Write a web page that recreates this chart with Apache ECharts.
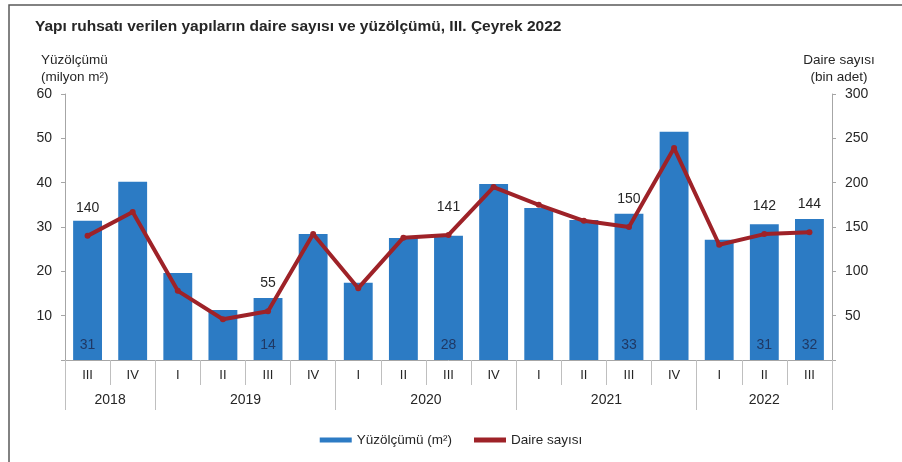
<!DOCTYPE html>
<html>
<head>
<meta charset="utf-8">
<script src="https://cdn.jsdelivr.net/npm/echarts@6/dist/echarts.min.js"></script>
<style>
  html, body { margin: 0; padding: 0; background: #fff; }
  #chart { width: 902px; height: 462px; }
</style>
</head>
<body>
<div id="chart"></div>
<script>
// ceyrekler ve yillar
var quarters = ["III", "IV", "I", "II", "III", "IV", "I", "II", "III", "IV", "I", "II", "III", "IV", "I", "II", "III"];
var quarterYears = ["2018", "2018", "2019", "2019", "2019", "2019", "2020", "2020", "2020", "2020",
  "2021", "2021", "2021", "2021", "2022", "2022", "2022"];
// yuzolcumu (milyon m2)
var areaValues = [31.4, 40.2, 19.6, 11.3, 14.0, 28.4, 17.4, 27.5, 28.0, 39.7, 34.3, 31.6, 33.0, 51.5, 27.1, 30.6, 31.8];
// daire sayisi (bin adet)
var flatValues = [140, 167, 78, 46, 55, 142, 81, 138, 141, 195, 175, 157, 150, 239, 130, 142, 144];
// etiket gosterilen noktalar
var labelIdx = [0, 4, 8, 12, 15, 16];
var leftTicks = [0, 10, 20, 30, 40, 50, 60];
var rightTicks = [0, 50, 100, 150, 200, 250, 300];

var font = "Liberation Sans";
var txt = "#262626";
var axisGrey = "#A6A6A6";

// yil ekseni: her ceyrek iki yarim adim, 0..2n noktali
var n = quarters.length;
var yearSlots = [];
for (var k = 0; k <= 2 * n; k++) yearSlots.push("");
var yearBounds = [0];
var start = 0;
for (var i = 1; i <= n; i++) {
  if (i === n || quarterYears[i] !== quarterYears[start]) {
    yearSlots[start + i] = quarterYears[start]; // grup ortasi
    yearBounds.push(2 * i);
    start = i;
  }
}

var barData = areaValues.map(function (v, i) {
  return { value: v, label: { show: labelIdx.indexOf(i) >= 0 } };
});
var lineData = flatValues.map(function (v, i) {
  return { value: v, label: { show: labelIdx.indexOf(i) >= 0 } };
});

var myChart = echarts.init(document.getElementById("chart"));
var option = {
  backgroundColor: "#fff",
  animation: false,
  textStyle: { fontFamily: font },
  title: [
    {
      text: "Yapı ruhsatı verilen yapıların daire sayısı ve yüzölçümü, III. Çeyrek 2022",
      left: 30, top: 14,
      textStyle: { fontFamily: font, fontSize: 15.5, fontWeight: "bold", color: txt }
    },
    {
      text: "Yüzölçümü\n(milyon m²)",
      left: 36, top: 47,
      textStyle: { fontFamily: font, fontSize: 13.5, fontWeight: "normal", color: txt, lineHeight: 17 }
    },
    {
      text: "Daire sayısı\n(bin adet)",
      left: 834, top: 47, textAlign: "center",
      textStyle: { fontFamily: font, fontSize: 13.5, fontWeight: "normal", color: txt, lineHeight: 17, align: "center" }
    }
  ],
  graphic: [
    {
      type: "rect",
      shape: { x: 9, y: 5, width: 1000, height: 1000 },
      style: { fill: "none", stroke: "#595959", lineWidth: 1.5 },
      silent: true
    }
  ],
  legend: {
    bottom: 10,
    left: "center",
    itemWidth: 32,
    itemHeight: 5,
    itemGap: 22,
    textStyle: { fontFamily: font, fontSize: 13.5, color: txt },
    data: [
      { name: "Yüzölçümü (m²)", icon: "rect" },
      { name: "Daire sayısı", icon: "rect" }
    ]
  },
  grid: { left: 65, right: 70, top: 94, bottom: 102 },
  xAxis: [
    {
      type: "category",
      data: quarters,
      position: "bottom",
      axisLine: { lineStyle: { color: axisGrey } },
      axisTick: { show: true, interval: 0, length: 25, lineStyle: { color: "#BFBFBF" } },
      axisLabel: { interval: 0, margin: 9, fontSize: 13, color: txt, fontFamily: font }
    },
    {
      type: "category",
      data: yearSlots,
      boundaryGap: false,
      position: "bottom",
      axisLine: { show: false },
      axisTick: {
        show: true, length: 50,
        interval: function (idx) { return yearBounds.indexOf(idx) >= 0; },
        lineStyle: { color: "#BFBFBF" }
      },
      axisLabel: { interval: 0, margin: 33, fontSize: 14, color: txt, fontFamily: font }
    }
  ],
  yAxis: [
    {
      type: "value",
      min: leftTicks[0], max: leftTicks[leftTicks.length - 1], interval: 10,
      splitLine: { show: false },
      axisLine: { show: true, lineStyle: { color: axisGrey } },
      axisTick: { show: true, length: 4, lineStyle: { color: axisGrey } },
      axisLabel: {
        fontSize: 14, color: txt, fontFamily: font, margin: 13,
        formatter: function (v) { return v === 0 ? "" : v; }
      }
    },
    {
      type: "value",
      min: rightTicks[0], max: rightTicks[rightTicks.length - 1], interval: 50,
      splitLine: { show: false },
      axisLine: { show: true, lineStyle: { color: axisGrey } },
      axisTick: { show: true, length: 4, lineStyle: { color: axisGrey } },
      axisLabel: {
        fontSize: 14, color: txt, fontFamily: font, margin: 13,
        formatter: function (v) { return v === 0 ? "" : v; }
      }
    }
  ],
  series: [
    {
      name: "Yüzölçümü (m²)",
      type: "bar",
      xAxisIndex: 0,
      yAxisIndex: 0,
      barCategoryGap: "36%",
      itemStyle: { color: "#2C7BC4" },
      label: {
        position: "insideBottom",
        distance: 8,
        color: "#1F3864",
        fontSize: 14,
        fontFamily: font,
        formatter: function (p) { return Math.round(p.value); }
      },
      data: barData
    },
    {
      name: "Daire sayısı",
      type: "line",
      xAxisIndex: 0,
      yAxisIndex: 1,
      symbol: "circle",
      symbolSize: 6,
      lineStyle: { color: "#9E2228", width: 4 },
      itemStyle: { color: "#9E2228" },
      label: {
        position: "top",
        distance: 18,
        color: txt,
        fontSize: 14,
        fontFamily: font
      },
      data: lineData
    }
  ]
};
myChart.setOption(option);
</script>
</body>
</html>
